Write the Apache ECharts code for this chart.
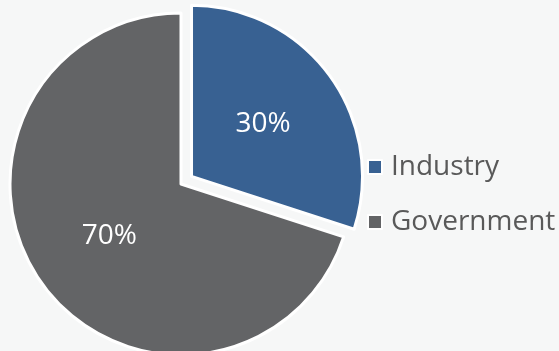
<!DOCTYPE html>
<html>
<head>
<meta charset="utf-8">
<script src="https://cdn.jsdelivr.net/npm/echarts@6/dist/echarts.min.js"></script>
<style>
html,body{margin:0;padding:0;background:#f6f7f7;}
#c{width:559px;height:351px;}
</style>
</head>
<body>
<div id="c"></div>
<script>
var categories = ['Industry', 'Government'];
var values = [30, 70];
var colors = ['#386192', '#636466'];

var chart = echarts.init(document.getElementById('c'));
chart.setOption({
  backgroundColor: '#f6f7f7',
  animation: false,
  legend: {
    orient: 'vertical',
    left: 367,
    top: 153,
    padding: 0,
    itemGap: 27,
    icon: 'rect',
    itemWidth: 14,
    itemHeight: 14,
    selectedMode: false,
    data: categories,
    textStyle: { fontSize: 28, lineHeight: 28, color: '#595959', fontFamily: 'Open Sans', padding: [0, 0, 0, 4] }
  },
  series: [{
    type: 'pie',
    center: [181, 184],
    radius: 171,
    startAngle: 90,
    clockwise: true,
    selectedMode: 'single',
    selectedOffset: 13,
    label: {
      show: true,
      position: 'inside',
      formatter: '{d}%',
      color: '#ffffff',
      fontSize: 28,
      fontFamily: 'Open Sans'
    },
    labelLine: { show: false },
    itemStyle: { borderColor: '#ffffff', borderWidth: 3 },
    emphasis: { disabled: true },
    data: categories.map(function (n, i) {
      return { name: n, value: values[i], selected: i === 0, itemStyle: { color: colors[i] } };
    })
  }]
});
</script>
</body>
</html>
